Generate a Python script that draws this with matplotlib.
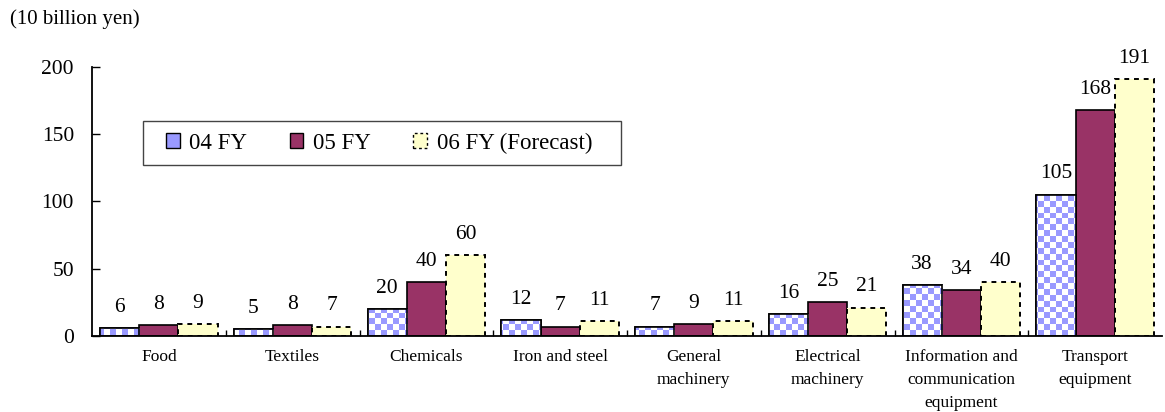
import numpy as np
import matplotlib
matplotlib.use("Agg")
import matplotlib.pyplot as plt
from matplotlib.colors import ListedColormap
from matplotlib.patches import Patch, Rectangle

categories = ["Food", "Textiles", "Chemicals", "Iron and steel",
              "General\nmachinery", "Electrical\nmachinery",
              "Information and\ncommunication\nequipment",
              "Transport\nequipment"]
fy04 = [6, 5, 20, 12, 7, 16, 38, 105]
fy05 = [8, 8, 40, 7, 9, 25, 34, 168]
fy06 = [9, 7, 60, 11, 11, 21, 40, 191]
series_names = ["04 FY", "05 FY", "06 FY (Forecast)"]
y_ticks = [0, 50, 100, 150, 200]

plt.rcParams["font.family"] = ["Liberation Serif", "DejaVu Serif"]

W, H = 1165, 412
fig = plt.figure(figsize=(W / 100, H / 100), dpi=100)
ax = fig.add_axes([92 / W, 1 - 336 / H, 1070 / W, 269 / H])

x = np.arange(len(categories))
w = 0.293
col05 = "#993366"
col06 = "#FFFFCC"
checker_blue = "#9999FF"

b04 = ax.bar(x - w, fy04, w, facecolor="white", edgecolor="black", linewidth=1.2, zorder=2)
b05 = ax.bar(x, fy05, w, facecolor=col05, edgecolor="black", linewidth=1.2, zorder=2)
b06 = ax.bar(x + w, fy06, w, facecolor=col06, edgecolor="black", linewidth=1.4,
             linestyle=(0, (2.5, 2.5)), zorder=2)

# checkerboard fill for the 04 FY bars, clipped to each bar
nx, ny = 182, 46
checker = (np.add.outer(np.arange(ny), np.arange(nx)) % 2).astype(float)
cmap = ListedColormap(["white", checker_blue])
for rect in b04:
    im = ax.imshow(checker, cmap=cmap, extent=(-0.5, 7.5, 0, 200),
                   interpolation="nearest", aspect="auto", origin="lower", zorder=2.1)
    im.set_clip_path(rect)
    ax.add_patch(Rectangle(rect.get_xy(), rect.get_width(), rect.get_height(),
                           facecolor="none", edgecolor="black", linewidth=1.2, zorder=2.2))

# value labels above the bars
for bars, vals in ((b04, fy04), (b05, fy05), (b06, fy06)):
    for rect, v in zip(bars, vals):
        ax.annotate(f"{v}", (rect.get_x() + rect.get_width() / 2, v),
                    xytext=(0, 15), textcoords="offset points",
                    ha="center", va="center", fontsize=15.5, annotation_clip=False)

ax.set_xlim(-0.5, 7.5)
ax.set_ylim(0, 200)
ax.set_yticks(y_ticks)
ax.tick_params(axis="y", direction="in", length=6, width=1, labelsize=15.5, pad=13)
ax.set_xticks(x)
ax.set_xticklabels(categories, fontsize=12.5, linespacing=1.58, va="top")
ax.tick_params(axis="x", which="major", length=0, pad=9.5)
ax.set_xticks(np.arange(0.5, 7.5, 1.0), minor=True)
ax.tick_params(axis="x", which="minor", direction="in", length=4, width=1)
for s in ("top", "right"):
    ax.spines[s].set_visible(False)
for s in ("left", "bottom"):
    ax.spines[s].set_linewidth(1.3)

# legend: entries without frame, plus a separate rectangular frame
handles = [
    Patch(facecolor=checker_blue, edgecolor="black"),
    Patch(facecolor=col05, edgecolor="black"),
    Patch(facecolor=col06, edgecolor="black", linestyle=(0, (2, 2))),
]
leg = fig.legend(handles, series_names, ncol=3, loc="center left",
                 bbox_to_anchor=(166 / W, 1 - 143 / H),
                 fontsize=16.5, frameon=False,
                 handlelength=0.6, handleheight=0.6, handletextpad=0.42,
                 columnspacing=1.85, borderpad=0, borderaxespad=0)
fig.patches.append(Rectangle((143 / W, 1 - 165 / H), (621 - 143) / W, 44 / H,
                             transform=fig.transFigure, facecolor="white",
                             edgecolor="#444444", linewidth=1.0, zorder=3))
leg.set_zorder(4)

fig.text(10 / W, 1 - 19 / H, "(10 billion yen)", fontsize=15, va="center", ha="left")

fig.savefig("out.png", dpi=100)
